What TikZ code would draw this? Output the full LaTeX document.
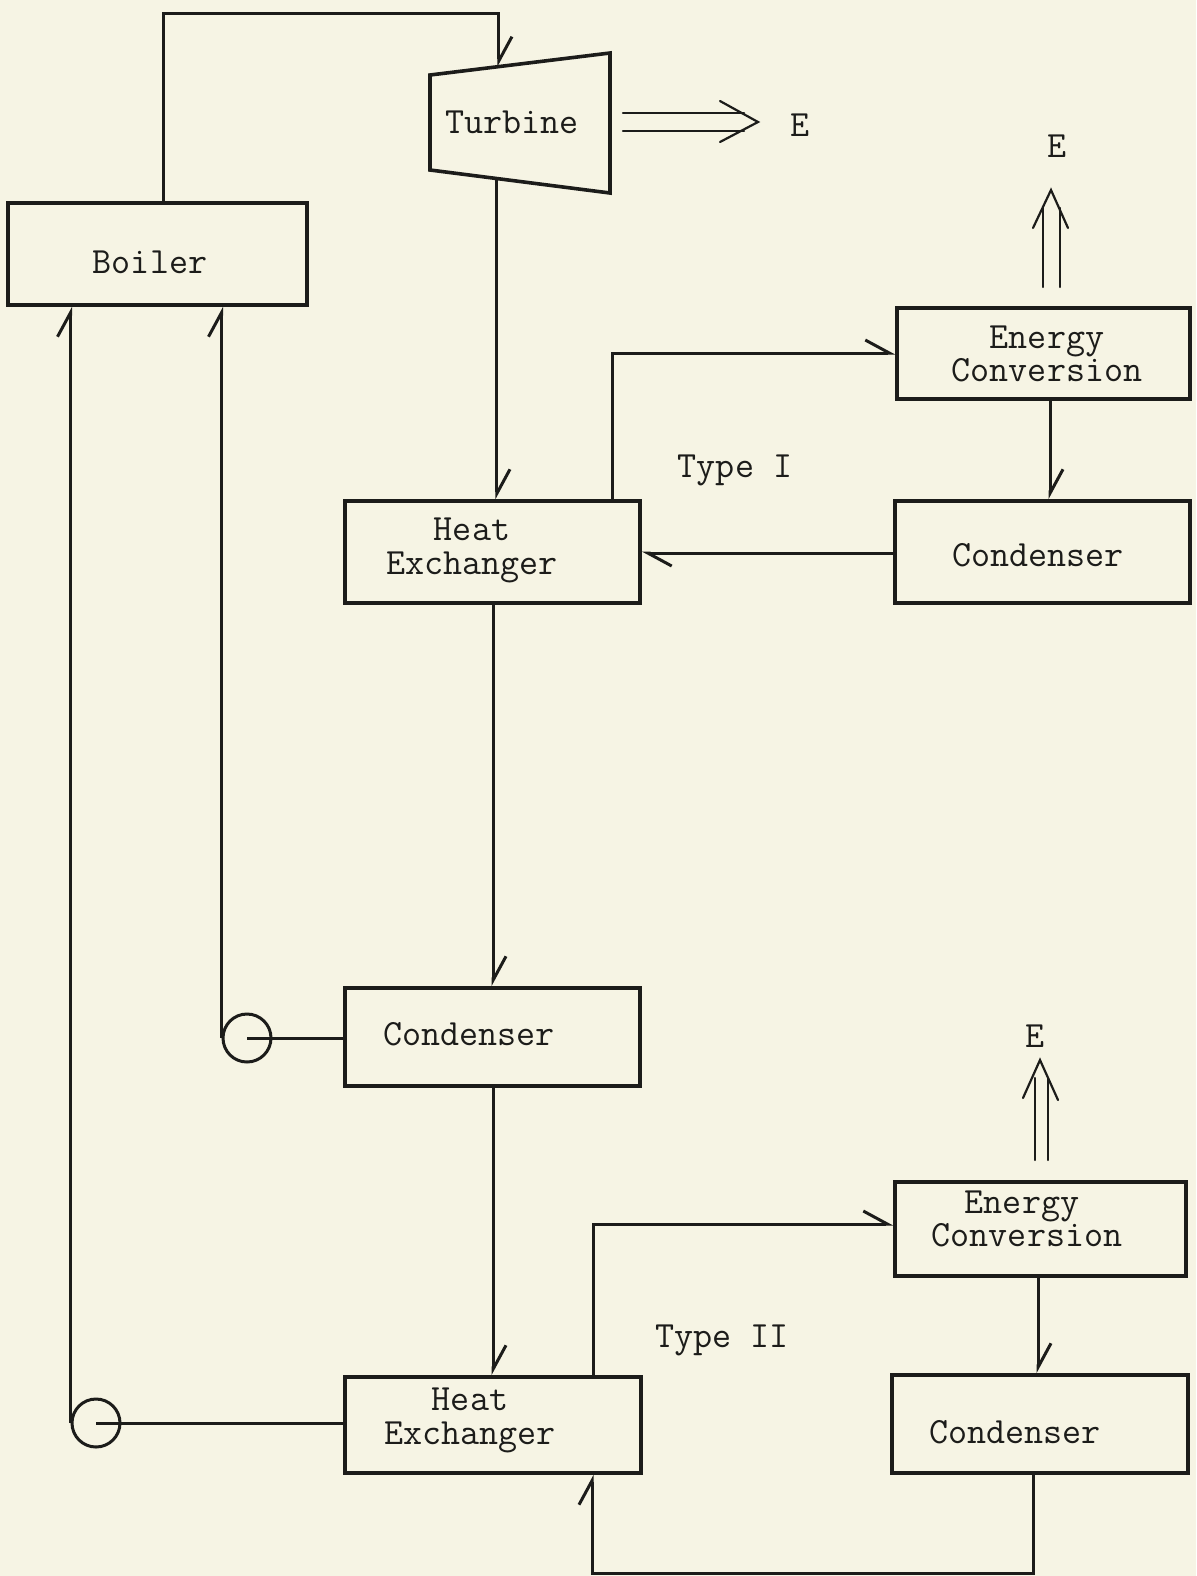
\documentclass[tikz,border=0pt]{standalone}
\usetikzlibrary{arrows.meta,calc,fit}
\definecolor{paper}{RGB}{246,244,228}
\definecolor{ink}{RGB}{28,28,26}
\begin{document}
\begin{tikzpicture}[x=0.5pt,y=-0.5pt,
  box/.style={draw=ink, line width=1.8pt, inner sep=0pt, rectangle},
  flow/.style={draw=ink, line width=1.5pt, -{Straight Barb[harpoon,length=12pt,width=13pt,line width=1.5pt]}},
  pline/.style={draw=ink, line width=1.5pt},
  eline/.style={draw=ink, line width=1.1pt, line cap=round},
  lbl/.style={font=\fontsize{18.5}{18}\selectfont\ttfamily, text=ink, inner sep=0pt, anchor=base},
  lbl2/.style={font=\fontsize{18.5}{#1}\selectfont\ttfamily, text=ink, inner sep=0pt, anchor=center, align=center},
  pump/.style={draw=ink, circle, line width=1.5pt, minimum size=24pt, inner sep=0pt}
]
\fill[paper] (0,0) rectangle (1196,1576);
\useasboundingbox (0,0) rectangle (1196,1576);

% boxes
\node[box, fit={(8,203) (307,305)}] (boiler) {};
\node[box, fit={(897,308) (1190,399)}] (ec1) {};
\node[box, fit={(895,501) (1190,603)}] (cd1) {};
\node[box, fit={(345,501) (640,603)}] (hx1) {};
\node[box, fit={(345,988) (640,1086)}] (cdm) {};
\node[box, fit={(345,1377) (641,1473)}] (hx2) {};
\node[box, fit={(895,1182) (1186,1276)}] (ec2) {};
\node[box, fit={(892,1375) (1188,1473)}] (cd2) {};

% turbine
\coordinate (tTL) at (430,75);
\coordinate (tTR) at (610,53);
\coordinate (tBR) at (610,193);
\coordinate (tBL) at (430,170);
\draw[draw=ink, line width=1.8pt] (tTL) -- (tTR) -- (tBR) -- (tBL) -- cycle;
\coordinate (tin) at ($(tTL)!0.383!(tTR)$);
\coordinate (tout) at ($(tBL)!0.372!(tBR)$);

% pumps
\node[pump] (p1) at (247,1038) {};
\node[pump] (p2) at (96,1423) {};

% texts
\node[lbl] (tboiler) at (150,273) {Boiler};
\node[lbl] (tturb) at (512,133) {Turbine};
\node[lbl] (Er) at (800,136) {E};
\node[lbl] (Et) at (1057,157) {E};
\node[lbl2=15.5pt] (ec1t) at (1047,354) {Energy\\Conversion};
\node[lbl] (type1) at (735,477) {Type I};
\node[lbl2=17pt] (hx1t) at (472,550) {Heat\\Exchanger};
\node[lbl] (cd1t) at (1038,566) {Condenser};
\node[lbl] (cdmt) at (469,1045) {Condenser};
\node[lbl] (Eb) at (1035,1047) {E};
\node[lbl2=13pt] (ec2t) at (1027,1219) {Energy\hspace*{5pt}\\Conversion};
\node[lbl] (type2) at (722,1347) {Type II};
\node[lbl2=17pt] (hx2t) at (470,1420) {Heat\\Exchanger};
\node[lbl] (cd2t) at (1015,1443) {Condenser};

% guide coordinates
\coordinate (xb) at (163,0);
\coordinate (ytop) at (0,13);
\coordinate (x1) at (612,0);
\coordinate (y1) at (0,353);
\coordinate (x2) at (1050,0);
\coordinate (x3) at (493,0);
\coordinate (x4) at (593,0);
\coordinate (y4) at (0,1224);
\coordinate (x5) at (1038,0);
\coordinate (x6) at (1033,0);
\coordinate (x7) at (592,0);
\coordinate (ybot) at (0,1573);
\coordinate (y7) at (0,553);

% main loop
\draw[flow] (boiler.north -| xb) |- (ytop -| tin) -- (tin);
\draw[flow] (tout) -- (tout |- hx1.north);
\draw[flow] (hx1.south -| x3) -- (cdm.north -| x3);
\draw[flow] (cdm.south -| x3) -- (hx2.north -| x3);
\draw[pline] (cdm.west |- p1) -- (p1.center);
\draw[flow] (p1.west) -- (p1.west |- boiler.south);
\draw[pline] (hx2.west |- p2) -- (p2.center);
\draw[flow] (p2.west) -- (p2.west |- boiler.south);

% type I loop
\draw[flow] (hx1.north -| x1) |- (ec1.west |- y1);
\draw[flow] (ec1.south -| x2) -- (cd1.north -| x2);
\draw[flow] (cd1.west |- y7) -- (hx1.east |- y7);

% type II loop
\draw[flow] (hx2.north -| x4) |- (ec2.west |- y4);
\draw[flow] (ec2.south -| x5) -- (cd2.north -| x5);
\draw[flow] (cd2.south -| x6) |- (ybot -| x7) -- (hx2.south -| x7);

% energy output arrows
\coordinate (erA) at (623,113);
\coordinate (erB) at (623,131);
\draw[eline] (erA) -- (744,113);
\draw[eline] (erB) -- (744,131);
\draw[eline] (720,101) -- (758,122) -- (720,142);

\draw[eline] (1043,287) -- (1043,208);
\draw[eline] (1060,287) -- (1060,208);
\draw[eline] (1033,228) -- (1051,190) -- (1068,228);

\draw[eline] (1035,1160) -- (1035,1078);
\draw[eline] (1048,1160) -- (1048,1078);
\draw[eline] (1023,1098) -- (1040,1060) -- (1058,1100);
\end{tikzpicture}
\end{document}
